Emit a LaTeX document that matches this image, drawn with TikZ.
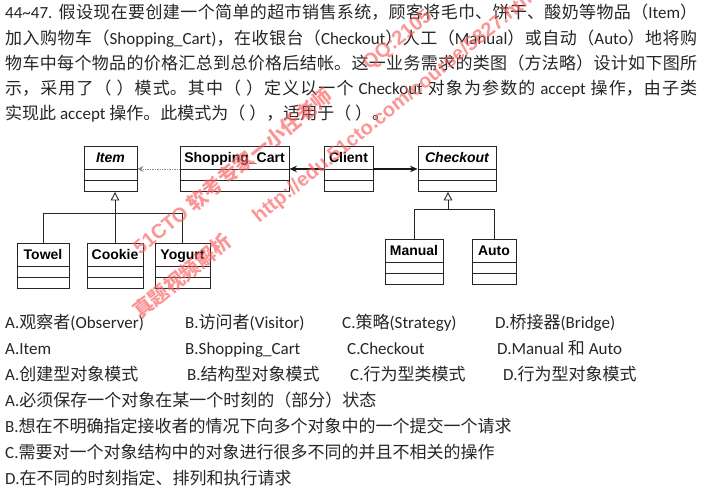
\documentclass[tikz,border=0pt]{standalone}
\usepackage{fontspec}
\usepackage{tikz}
\usetikzlibrary{arrows,arrows.meta}
\setmainfont{Carlito}
\newfontfamily\cjkfont{Noto Sans CJK SC}
\newfontfamily\umlfont{Liberation Sans}
\definecolor{wmred}{RGB}{250,95,95}

% Chinese characters are set in the CJK font
\XeTeXinterchartokenstate=1
\newXeTeXintercharclass\cjkclass
\newcount\cjkcode
\def\cjkrange#1#2#3{\cjkcode=#1\relax
  \loop\XeTeXcharclass\cjkcode=#3\relax
  \ifnum\cjkcode<#2\advance\cjkcode by 1\repeat}
\cjkrange{"0021}{"007E}{0}
\cjkrange{"3000}{"303F}{\cjkclass}
\cjkrange{"4E00}{"9FFF}{\cjkclass}
\cjkrange{"FF00}{"FFEF}{\cjkclass}
\XeTeXinterchartoks 0 \cjkclass = {\begingroup\cjkfont}
\XeTeXinterchartoks 4095 \cjkclass = {\begingroup\cjkfont}
\XeTeXinterchartoks \cjkclass 0 = {\endgroup}
\XeTeXinterchartoks \cjkclass 4095 = {\endgroup}
\XeTeXlinebreaklocale "zh"
\XeTeXlinebreakskip=0pt plus 2pt minus 0.3pt

\begin{document}
\begin{tikzpicture}[x=1pt,y=-1pt,
  qtext/.style={anchor=base west,inner sep=0pt,text=black!85,font=\fontsize{17}{25.15}\selectfont},
  umlclass/.style={draw=black!85,line width=0.9pt,anchor=north,inner xsep=2pt,inner ysep=0pt,
    text height=16pt,text depth=29pt,font=\umlfont\bfseries\fontsize{14}{14}\selectfont},
  inherit/.style={draw=black!85,line width=0.9pt,-{Triangle[open,length=8.5pt,width=8.5pt]}},
  wmark/.style={anchor=base west,rotate=39,inner sep=0pt,text=wmred,text opacity=0.65,
    font=\umlfont\bfseries\fontsize{20}{20}\selectfont}]

\path[use as bounding box,fill=white] (0,0) rectangle (707,492);

% question
\node[qtext,text width=692pt,align=justify] (Q) at (5,19) {44\textasciitilde47. 假设现在要创建一个简单的超市销售系统，顾客将毛巾、饼干、酸奶等物品（Item）\linebreak
加入购物车（Shopping\_Cart)，在收银台（Checkout）人工（Manual）或自动（Auto）地将购\linebreak
物车中每个物品的价格汇总到总价格后结帐。这一业务需求的类图（方法略）设计如下图所\linebreak
示，采用了（ ）模式。其中（ ）定义以一个 Checkout 对象为参数的 accept 操作，由子类\linebreak
实现此 accept 操作。此模式为（ ），适用于（ ）。};

% classes
\node[umlclass,minimum width=53pt]  (Item)     at (110.5,146) {\itshape Item};
\node[umlclass,minimum width=109pt] (Cart)     at (234.5,146) {Shopping\_Cart};
\node[umlclass,minimum width=49pt]  (Client)   at (348.5,146) {Client};
\node[umlclass,minimum width=78pt]  (Checkout) at (457,146)   {\itshape Checkout};
\node[umlclass,minimum width=52pt]  (Towel)    at (43,243)    {Towel};
\node[umlclass,minimum width=56pt]  (Cookie)   at (115,243)   {Cookie};
\node[umlclass,minimum width=55pt]  (Yogurt)   at (182.5,243) {Yogurt};
\node[umlclass,minimum width=58pt]  (Manual)   at (414,239)   {Manual};
\node[umlclass,minimum width=44pt]  (Auto)     at (494,239)   {Auto};

\foreach \c in {Item,Cart,Client,Checkout,Towel,Cookie,Yogurt,Manual,Auto}
  \draw[black!85,line width=0.9pt] ([yshift=-23pt]\c.north west) -- ([yshift=-23pt]\c.north east)
    ([yshift=-34pt]\c.north west) -- ([yshift=-34pt]\c.north east);

% associations
\path [->,>={Stealth[length=6pt,width=6pt]},black!45,line width=0.7pt,densely dotted] (Cart) edge (Item);
\path [->,>={Stealth[length=7.5pt,width=6.5pt]},black!90,line width=1.2pt] (Client) edge (Cart) (Client) edge (Checkout);

% inheritance
\coordinate (ibus) at (115,213);
\draw[inherit] (Cookie.north) -- (Cookie.north |- Item.south);
\draw[black!85,line width=0.9pt] (Towel.north) |- (Yogurt.north |- ibus) -- (Yogurt.north);
\coordinate (cbus) at (448,209);
\draw[inherit] (cbus) -- (cbus |- Checkout.south);
\draw[black!85,line width=0.9pt] (Manual.north) |- (Auto.north |- cbus) -- (Auto.north);

% answers
\node[qtext] (A1) at (5,328.5)   {A.观察者(Observer)};
\node[qtext] (B1) at (185,328.5) {B.访问者(Visitor)};
\node[qtext] (C1) at (342,328.5) {C.策略(Strategy)};
\node[qtext] (D1) at (495,328.5) {D.桥接器(Bridge)};
\node[qtext] (A2) at (5,354.5)   {A.Item};
\node[qtext] (B2) at (185,354.5) {B.Shopping\_Cart};
\node[qtext] (C2) at (347,354.5) {C.Checkout};
\node[qtext] (D2) at (497,354.5) {D.Manual 和 Auto};
\node[qtext] (A3) at (5,380.5)   {A.创建型对象模式};
\node[qtext] (B3) at (187,380.5) {B.结构型对象模式};
\node[qtext] (C3) at (350,380.5) {C.行为型类模式};
\node[qtext] (D3) at (503,380.5) {D.行为型对象模式};
\node[qtext] (A4) at (5,406.5)   {A.必须保存一个对象在某一个时刻的（部分）状态};
\node[qtext] (B4) at (5,432.5)   {B.想在不明确指定接收者的情况下向多个对象中的一个提交一个请求};
\node[qtext] (C4) at (5,458.5)   {C.需要对一个对象结构中的对象进行很多不同的并且不相关的操作};
\node[qtext] (D4) at (5,484.5)   {D.在不同的时刻指定、排列和执行请求};

% watermark
\node[wmark] (W1) at (140,256) {51CTO 软考专家一小任老师\hspace{45pt}QQ:2105};
\node[wmark] (W2) at (140,320) {真题视频解析\hspace{33pt}http://edu.51cto.com/course/5827.html};

\end{tikzpicture}
\end{document}
